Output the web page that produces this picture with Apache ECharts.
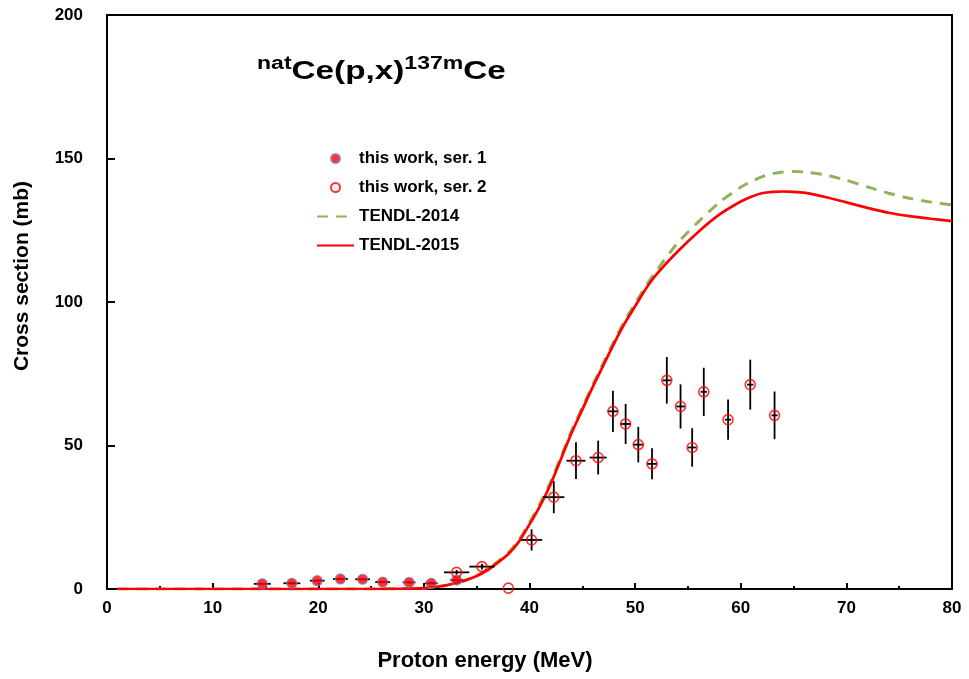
<!DOCTYPE html>
<html>
<head>
<meta charset="utf-8">
<script src="https://cdn.jsdelivr.net/npm/echarts@6/dist/echarts.min.js"></script>
<style>
  html, body { margin: 0; padding: 0; background: #fff; }
  #chart { width: 969px; height: 679px; }
</style>
</head>
<body>
<div id="chart"></div>
<script>
// measured points, series 1
const ser1Energy = [14.7, 17.5, 19.9, 22.1, 24.2, 26.1, 28.6, 30.7, 33.1];
const ser1Cs = [1.8, 2.0, 2.9, 3.5, 3.4, 2.4, 2.3, 2.0, 3.1];
const ser1EnErr = [0.8, 0.8, 0.7, 0.7, 0.7, 0.7, 0.6, 0.6, 0.6];
const ser1CsErr = [0.3, 0.3, 0.3, 0.3, 0.3, 0.3, 0.3, 0.3, 0.3];

// measured points, series 2
const ser2Energy = [33.1, 35.5, 38.0, 40.2, 42.3, 44.4, 46.5, 47.9, 49.1, 50.3, 51.6, 53.0, 54.3, 55.4, 56.5, 58.8, 60.9, 63.2];
const ser2Cs = [5.8, 7.8, 0.3, 17.1, 32.0, 44.7, 45.8, 61.9, 57.5, 50.3, 43.6, 72.7, 63.6, 49.3, 68.7, 59.0, 71.2, 60.5];
const ser2EnErr = [1.2, 1.2, 0, 1.0, 1.0, 0.9, 0.8, 0.5, 0.5, 0.5, 0.5, 0.4, 0.4, 0.4, 0.3, 0.3, 0.3, 0.3];
const ser2CsErr = [0.8, 1.0, 0, 3.7, 5.6, 6.4, 5.9, 7.2, 7.0, 6.2, 5.4, 8.1, 7.7, 6.7, 8.4, 7.0, 8.7, 8.3];

// TENDL curves
const tendlEnergy = [1, 5, 10, 15, 20, 25, 28, 30, 31, 32, 33, 34, 35, 36, 37, 38, 39, 40, 41, 42, 43, 44, 45, 46, 47, 48, 49, 50, 51, 52, 54, 56, 58, 60, 61, 62, 63, 64, 65, 66, 68, 70, 72, 74, 76, 78, 80];
const tendl15Cs = [0, 0, 0, 0, 0, 0, 0.1, 0.3, 0.7, 1.2, 2.1, 3.1, 4.5, 6.5, 9.2, 12.2, 16.5, 22.5, 29, 36.5, 45.5, 54.5, 62.5, 70.5, 78, 85.5, 92.5, 98.5, 104.5, 109.5, 117.5, 124.5, 130.5, 135, 136.7, 137.9, 138.4, 138.5, 138.4, 138.1, 136.6, 134.7, 132.8, 131.1, 129.9, 129, 128.2];
const tendl14Cs = [0, 0, 0, 0, 0, 0, 0.1, 0.3, 0.7, 1.2, 2.1, 3.2, 4.7, 6.8, 9.6, 12.7, 17.1, 23.2, 29.8, 37.3, 46.3, 55.3, 63.3, 71.3, 78.8, 86.3, 93.4, 99.5, 105.5, 110.8, 120.5, 128, 134.8, 140, 142, 143.6, 144.7, 145.3, 145.5, 145.3, 144.3, 142.4, 140.1, 137.9, 136.1, 134.8, 133.8];

const xTicks = [0, 10, 20, 30, 40, 50, 60, 70, 80];
const yTicks = [0, 50, 100, 150, 200];

const FONT = '"Liberation Sans", Arial, sans-serif';

const pairs = (xs, ys) => xs.map((x, i) => [x, ys[i]]);
const errRows = (xs, ys, dxs, dys) => xs.map((x, i) => [x, ys[i], dxs[i], dys[i]]);

function renderErr(params, api) {
  const x = api.value(0), y = api.value(1), dx = api.value(2), dy = api.value(3);
  const l = api.coord([x - dx, y]), r = api.coord([x + dx, y]);
  const t = api.coord([x, y + dy]), b = api.coord([x, y - dy]);
  const style = { stroke: '#000', lineWidth: 1.8 };
  const children = [];
  if (dx > 0) children.push({ type: 'line', shape: { x1: l[0], y1: l[1], x2: r[0], y2: r[1] }, style });
  if (dy > 0) children.push({ type: 'line', shape: { x1: t[0], y1: t[1], x2: b[0], y2: b[1] }, style });
  return { type: 'group', children };
}

const chart = echarts.init(document.getElementById('chart'));

chart.setOption({
  animation: false,
  backgroundColor: '#fff',
  textStyle: { fontFamily: FONT },
  grid: {
    left: 107, right: 17, top: 15, bottom: 90,
    show: true, borderColor: '#000', borderWidth: 2, backgroundColor: 'transparent'
  },
  graphic: [
    {
      type: 'text',
      x: 257, y: 55, scaleX: 1.28,
      style: {
        x: 0, y: 0,
        verticalAlign: 'top',
        text: '{sup|nat}{main|Ce(p,x)}{sup|137m}{main|Ce}',
        rich: {
          sup: { fontSize: 18, fontWeight: 'bold', fontFamily: FONT, fill: '#000', verticalAlign: 'top', lineHeight: 30 },
          main: { fontSize: 26, fontWeight: 'bold', fontFamily: FONT, fill: '#000', verticalAlign: 'bottom', lineHeight: 30 }
        }
      }
    },
    {
      // x axis title
      type: 'text', x: 485, y: 661,
      style: {
        text: 'Proton energy (MeV)', align: 'center', verticalAlign: 'middle',
        fontFamily: FONT, fontSize: 22, fontWeight: 'bold', fill: '#000'
      }
    },
    {
      // y axis title
      type: 'text', x: 22, y: 276, rotation: Math.PI / 2,
      style: {
        text: 'Cross section (mb)', align: 'center', verticalAlign: 'middle',
        fontFamily: FONT, fontSize: 21, fontWeight: 'bold', fill: '#000'
      }
    }
  ],
  legend: {
    orient: 'vertical',
    left: 311, top: 145,
    itemWidth: 37, itemHeight: 9, itemGap: 12,
    textStyle: { fontFamily: FONT, fontSize: 17, fontWeight: 'bold', color: '#000' },
    data: [
      { name: 'this work, ser. 1' },
      { name: 'this work, ser. 2' },
      { name: 'TENDL-2014', itemStyle: { opacity: 0 } },
      { name: 'TENDL-2015', itemStyle: { opacity: 0 } }
    ]
  },
  xAxis: {
    type: 'value', min: 0, max: 80, interval: 10,
    axisLine: { show: true, onZero: false, lineStyle: { color: '#000', width: 2 } },
    axisTick: { show: true, inside: true, length: 6, lineStyle: { color: '#000', width: 2 } },
    minorTick: { show: true, splitNumber: 2, length: 3, lineStyle: { color: '#000', width: 2 } },
    splitLine: { show: false },
    axisLabel: {
      margin: 11, fontFamily: FONT, fontSize: 17, fontWeight: 'bold', color: '#000',
      formatter: v => (xTicks.includes(v) ? String(v) : '')
    }
  },
  yAxis: {
    type: 'value', min: 0, max: 200, interval: 50,
    axisLine: { show: true, lineStyle: { color: '#000', width: 2 } },
    axisTick: { show: true, inside: true, length: 8, lineStyle: { color: '#000', width: 2 } },
    splitLine: { show: false },
    axisLabel: {
      margin: 24, fontFamily: FONT, fontSize: 17, fontWeight: 'bold', color: '#000',
      formatter: v => (yTicks.includes(v) ? String(v) : '')
    }
  },
  series: [
    {
      name: 'TENDL-2014', type: 'line', smooth: 0.2, symbol: 'none', z: 2,
      data: pairs(tendlEnergy, tendl14Cs),
      itemStyle: { color: '#8fb35a' },
      lineStyle: { color: '#8fb35a', width: 3, type: [11, 8] }
    },
    {
      name: 'TENDL-2015', type: 'line', smooth: 0.2, symbol: 'none', z: 3,
      data: pairs(tendlEnergy, tendl15Cs),
      itemStyle: { color: '#ff0000' },
      lineStyle: { color: '#ff0000', width: 2.7 }
    },
    {
      name: 'err1', type: 'custom', renderItem: renderErr, z: 4,
      data: errRows(ser1Energy, ser1Cs, ser1EnErr, ser1CsErr)
    },
    {
      name: 'err2', type: 'custom', renderItem: renderErr, z: 4,
      data: errRows(ser2Energy, ser2Cs, ser2EnErr, ser2CsErr)
    },
    {
      name: 'this work, ser. 1', type: 'scatter', symbol: 'circle', symbolSize: 10, z: 5,
      data: pairs(ser1Energy, ser1Cs),
      itemStyle: { color: '#ff0000', borderColor: '#7d7db8', borderWidth: 1.2 }
    },
    {
      name: 'this work, ser. 2', type: 'scatter', symbol: 'circle', symbolSize: 10, z: 6,
      data: pairs(ser2Energy, ser2Cs),
      itemStyle: { color: 'rgba(255,255,255,0)', borderColor: '#ff0000', borderWidth: 1.6 }
    }
  ]
});
</script>
</body>
</html>
